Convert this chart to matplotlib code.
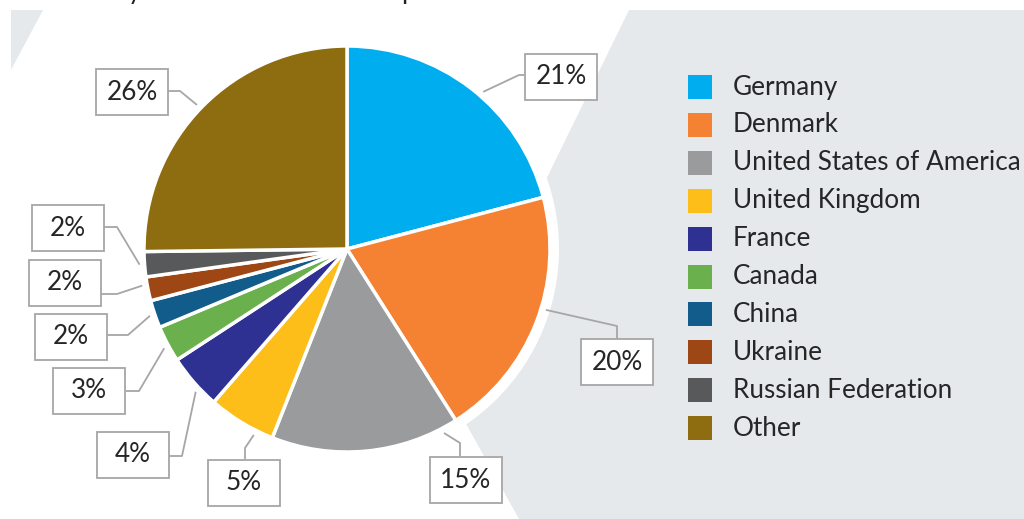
import matplotlib
matplotlib.use("Agg")
import matplotlib.pyplot as plt
from matplotlib.patches import Polygon, Rectangle, Circle
import numpy as np

# ---- data ----
countries = ["Germany", "Denmark", "United States of America", "United Kingdom",
             "France", "Canada", "China", "Ukraine", "Russian Federation", "Other"]
shares = [20.9, 20.1, 15.0, 5.4, 4.4, 2.9, 2.2, 1.9, 2.0, 25.2]
labels = ["21%", "20%", "15%", "5%", "4%", "3%", "2%", "2%", "2%", "26%"]
colors = ["#00AEEF", "#F58233", "#999B9C", "#FDBE1A", "#2E3192",
          "#6AB04C", "#115C8A", "#9E4715", "#58595B", "#8E6C10"]

W, H = 1024, 519
fig = plt.figure(figsize=(W / 100, H / 100), dpi=100)
ax = fig.add_axes([0, 0, 1, 1])

FONT = "Lato"
TXT = "#262626"
LINE = "#A6A6A6"
BG = "#E6E9EC"

def P(x, y):  # pixel (top-left origin) -> data
    return (x, H - y)

# measure font size so that the longest legend entry matches the reference width
t = fig.text(0, 0, "United States of America", fontsize=20, family=FONT)
fig.canvas.draw()
w = t.get_window_extent().width
t.remove()
FS = 20 * 287 / w

# background shapes
ax.add_patch(Polygon([P(629, 10), P(1024, 10), P(1024, 519), P(519, 519), P(445, 386)],
                     closed=True, facecolor=BG, edgecolor="none", zorder=0))
ax.add_patch(Polygon([P(11, 10), P(43, 10), P(11, 70)],
                     closed=True, facecolor=BG, edgecolor="none", zorder=0))

cx, cy, R = 347, 249, 203
ax.add_patch(Circle(P(cx, cy), R + 9, facecolor="white", edgecolor="none", zorder=1))

wedges, _ = ax.pie(shares, colors=colors, startangle=90, counterclock=False,
                   center=P(cx, cy), radius=R,
                   wedgeprops=dict(edgecolor="white", linewidth=2.5, zorder=2))
for wd in wedges:
    wd.set_zorder(2)

# label layout: box centre, elbow point, box attachment point, leader angle offset
layout = [
    ((561, 77), (519, 75), (525, 75), -3.3),
    ((617, 362), (617, 326), (617, 339), 4.4),
    ((466, 480), (460, 443), (460, 456), 22.4),
    ((244, 483), (245, 448), (245, 459), 4.7),
    ((133, 455), (182, 456), (169, 456), 2.3),
    ((89, 391), (139, 391), (126, 391), 0.6),
    ((71, 337), (128, 335), (107, 335), 0),
    ((65, 283), (117, 294), (101, 294), -1.2),
    ((68, 228), (117, 227), (104, 227), 0),
    ((132, 92), (180, 91), (168, 91), 0.8),
]
bw, bh = 72, 46
for wd, lab, (bc, elbow, attach, off) in zip(wedges, labels, layout):
    ang = np.deg2rad((wd.theta1 + wd.theta2) / 2 + off)
    sx = wd.center[0] + (R + 5) * np.cos(ang)
    sy = wd.center[1] + (R + 5) * np.sin(ang)
    ex, ey = P(*elbow)
    axx, axy = P(*attach)
    ax.plot([sx, ex, axx], [sy, ey, axy], color=LINE, lw=1.3, zorder=3,
            solid_capstyle="butt")
    bx, by = P(*bc)
    ax.add_patch(Rectangle((bx - bw / 2, by - bh / 2), bw, bh, facecolor="white",
                           edgecolor=LINE, lw=1.3, zorder=4))
    ax.text(bx, by, lab, ha="center", va="center", fontsize=FS, family=FONT,
            color=TXT, zorder=5)

# legend
for i, (name, col) in enumerate(zip(countries, colors)):
    yc = 87 + i * 37.9
    x0, y0 = P(688, yc + 12)
    ax.add_patch(Rectangle((x0, y0), 24, 24, facecolor=col, edgecolor="none", zorder=3))
    tx, ty = P(733, yc)
    ax.text(tx, ty, name, ha="left", va="center", fontsize=FS, family=FONT,
            color=TXT, zorder=3)

# cut-off title fragments at the top edge (only descenders visible, as in the reference)
for xp, ch in [(134, "y"), (408, "p")]:
    ax.text(*P(xp, -1), ch, ha="center", va="baseline", fontsize=FS, family=FONT,
            color="#222222")

ax.set_xlim(0, W)
ax.set_ylim(0, H)
ax.set_aspect("equal")
ax.set_axis_off()
fig.savefig("out.png", dpi=100)
